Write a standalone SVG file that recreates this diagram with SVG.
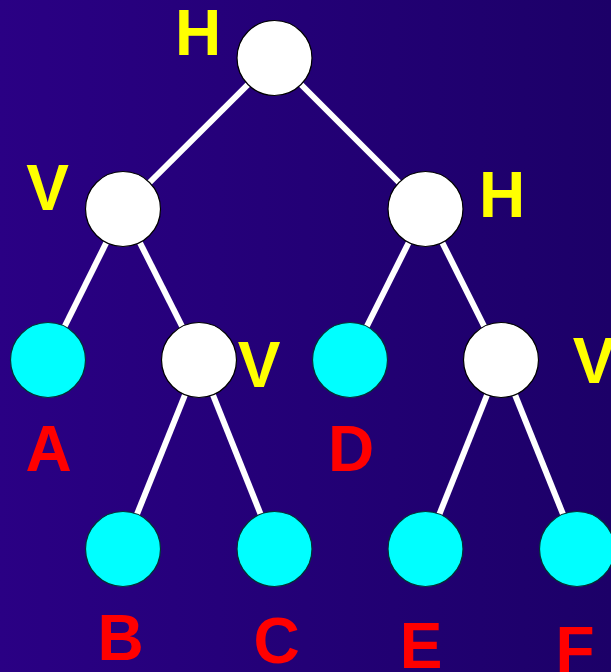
<svg xmlns="http://www.w3.org/2000/svg" width="611" height="672" viewBox="0 0 611 672">
<defs>
<linearGradient id="bg" x1="0" y1="0" x2="1" y2="0">
<stop offset="0" stop-color="#2a0084"/>
<stop offset="1" stop-color="#1c0068"/>
</linearGradient>
<style>
.inner{fill:#ffffff;stroke:#000000;stroke-width:1.2}
.leaf{fill:#00ffff;stroke:#003333;stroke-width:1.2}
.edge{stroke:#ffffff;stroke-width:6;fill:none}
.cut{fill:#ffff00;font-family:"Liberation Sans",Arial,sans-serif;font-weight:bold;font-size:64px;text-anchor:middle}
.name{fill:#ff0000;font-family:"Liberation Sans",Arial,sans-serif;font-weight:bold;font-size:64px;text-anchor:middle}
</style>
</defs>
<rect x="0" y="0" width="611" height="672" fill="url(#bg)"/>
<g id="connectors">
<line class="edge" x1="274.5" y1="58" x2="123" y2="209"/>
<line class="edge" x1="274.5" y1="58" x2="425.5" y2="209"/>
<line class="edge" x1="123" y1="209" x2="48" y2="360"/>
<line class="edge" x1="123" y1="209" x2="199" y2="360"/>
<line class="edge" x1="425.5" y1="209" x2="350" y2="360"/>
<line class="edge" x1="425.5" y1="209" x2="501" y2="360"/>
<line class="edge" x1="199" y1="360" x2="123" y2="549"/>
<line class="edge" x1="199" y1="360" x2="274.5" y2="549"/>
<line class="edge" x1="501" y1="360" x2="425.5" y2="549"/>
<line class="edge" x1="501" y1="360" x2="577" y2="549"/>
</g>
<g id="root"><circle class="inner" cx="274.5" cy="58" r="37.5"/><text class="cut" x="198" y="55">H</text></g>
<g id="v-left"><circle class="inner" cx="123" cy="209" r="37.5"/><text class="cut" x="47.5" y="210">V</text></g>
<g id="h-right"><circle class="inner" cx="425.5" cy="209" r="37.5"/><text class="cut" x="502" y="217">H</text></g>
<g id="v-mid"><circle class="inner" cx="199" cy="360" r="37.5"/><text class="cut" x="259" y="387">V</text></g>
<g id="v-right"><circle class="inner" cx="501" cy="360" r="37.5"/><text class="cut" x="594" y="383">V</text></g>
<g id="leaf-a"><circle class="leaf" cx="48" cy="360" r="37.5"/><text class="name" x="48.5" y="471">A</text></g>
<g id="leaf-d"><circle class="leaf" cx="350" cy="360" r="37.5"/><text class="name" x="351" y="471">D</text></g>
<g id="leaf-b"><circle class="leaf" cx="123" cy="549" r="37.5"/><text class="name" x="120.5" y="660">B</text></g>
<g id="leaf-c"><circle class="leaf" cx="274.5" cy="549" r="37.5"/><text class="name" x="276.5" y="663">C</text></g>
<g id="leaf-e"><circle class="leaf" cx="425.5" cy="549" r="37.5"/><text class="name" x="421" y="668">E</text></g>
<g id="leaf-f"><circle class="leaf" cx="577" cy="549" r="37.5"/><text class="name" x="575" y="672">F</text></g>
</svg>
